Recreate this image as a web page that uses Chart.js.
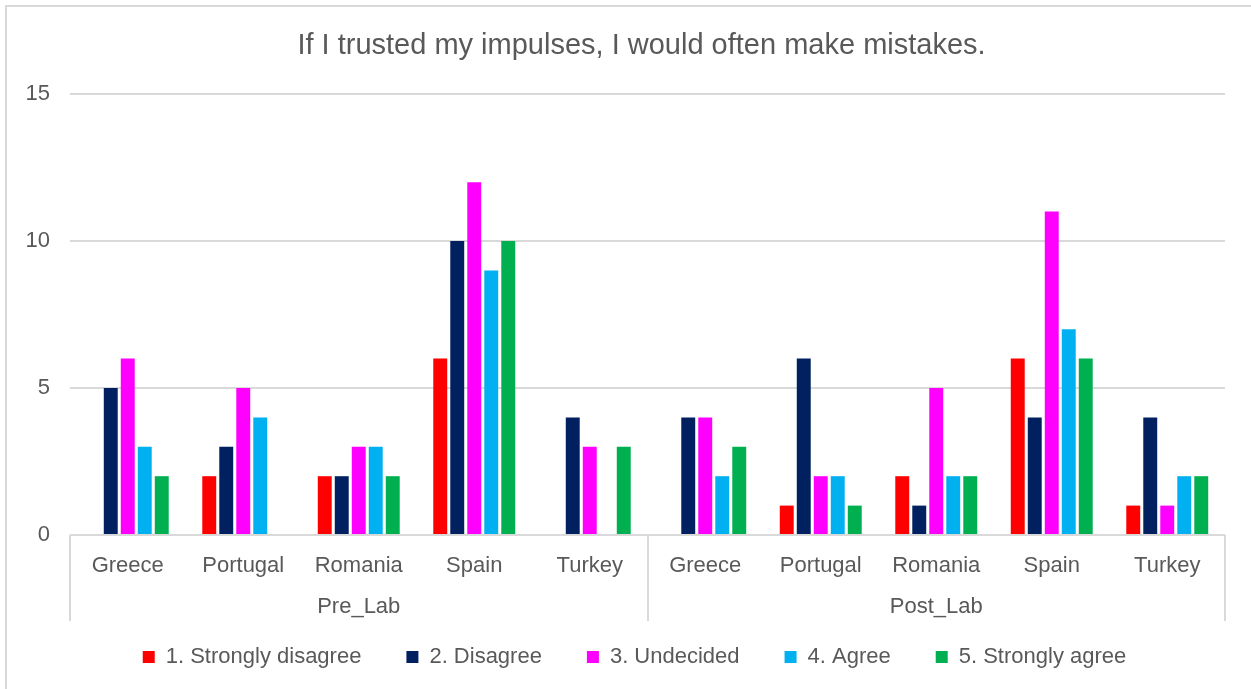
<!DOCTYPE html>
<html>
<head>
<meta charset="utf-8">
<title>If I trusted my impulses, I would often make mistakes.</title>
<script src="https://cdn.jsdelivr.net/npm/chart.js@4.4.1/dist/chart.umd.min.js"></script>
<style>
  html, body { margin: 0; padding: 0; background: #ffffff; }
  #wrap { width: 1251px; height: 689px; }
</style>
</head>
<body>
<div id="wrap"><canvas id="chart" width="1251" height="689"></canvas></div>
<script>
// Survey answers per country, before and after the lab sessions
const chartTitle = 'If I trusted my impulses, I would often make mistakes.';
const groups = ['Pre_Lab', 'Post_Lab'];
const countries = ['Greece', 'Portugal', 'Romania', 'Spain', 'Turkey'];
const categories = [...countries, ...countries];

const seriesNames = ['1. Strongly disagree', '2. Disagree', '3. Undecided', '4. Agree', '5. Strongly agree'];
const stronglyDisagree = [0, 2, 2, 6, 0, 0, 1, 2, 6, 1];
const disagree = [5, 3, 2, 10, 4, 4, 6, 1, 4, 4];
const undecided = [6, 5, 3, 12, 3, 4, 2, 5, 11, 1];
const agree = [3, 4, 3, 9, 0, 2, 2, 2, 7, 2];
const stronglyAgree = [2, 0, 2, 10, 3, 3, 1, 2, 6, 2];
const yTicks = [0, 5, 10, 15];

const seriesColors = ['#FF0000', '#002060', '#FF00FF', '#00B0F0', '#00B050'];
const textColor = '#595959';
const lineColor = '#D9D9D9';
const fontFamily = "'Liberation Sans', Arial, sans-serif";

const seriesValues = [stronglyDisagree, disagree, undecided, agree, stronglyAgree];
const datasets = seriesNames.map((name, i) => ({
  label: name,
  data: seriesValues[i],
  backgroundColor: seriesColors[i],
  borderWidth: 0,
  categoryPercentage: 0.736,
  barPercentage: 0.82
}));

// White page with the outer frame of the chart
const frame = {
  id: 'frame',
  beforeDraw(chart) {
    const ctx = chart.ctx;
    ctx.save();
    ctx.fillStyle = '#ffffff';
    ctx.fillRect(0, 0, chart.width, chart.height);
    ctx.strokeStyle = lineColor;
    ctx.lineWidth = 2;
    ctx.strokeRect(6, 6, chart.width + 20, chart.height + 20);
    ctx.restore();
  }
};

// Title and legend are centred on the frame rather than on the canvas
const centreBlocks = {
  id: 'centreBlocks',
  afterLayout(chart) {
    if (chart.titleBlock) chart.titleBlock.left += 58;
    if (chart.legend) chart.legend.left += 44;
  }
};

// Second row of the category axis: group names and their dividers
const groupAxis = {
  id: 'groupAxis',
  afterDraw(chart) {
    const x = chart.scales.x;
    const ctx = chart.ctx;
    const top = chart.chartArea.bottom;
    const per = categories.length / groups.length;
    ctx.save();
    ctx.strokeStyle = lineColor;
    ctx.lineWidth = 2;
    ctx.beginPath();
    for (let g = 0; g <= groups.length; g++) {
      const px = Math.round(x.getPixelForValue(g * per - 0.5));
      ctx.moveTo(px, top);
      ctx.lineTo(px, top + 86);
    }
    ctx.stroke();
    ctx.fillStyle = textColor;
    ctx.font = '22px ' + fontFamily;
    ctx.textAlign = 'center';
    ctx.textBaseline = 'middle';
    groups.forEach((name, g) => {
      const a = x.getPixelForValue(g * per - 0.5);
      const b = x.getPixelForValue((g + 1) * per - 0.5);
      ctx.fillText(name, (a + b) / 2, top + 72);
    });
    ctx.restore();
  }
};

new Chart(document.getElementById('chart'), {
  type: 'bar',
  data: { labels: categories, datasets },
  plugins: [frame, centreBlocks, groupAxis],
  options: {
    responsive: false,
    animation: false,
    layout: { padding: { left: 0, right: 26, top: 0, bottom: 11 } },
    plugins: {
      title: {
        display: true,
        text: chartTitle,
        color: textColor,
        font: { family: fontFamily, size: 29, weight: 'normal' },
        padding: { top: 29, bottom: 30.2 }
      },
      legend: {
        position: 'bottom',
        labels: {
          color: textColor,
          font: { family: fontFamily, size: 22 },
          boxWidth: 12,
          boxHeight: 12,
          padding: 45
        }
      },
      tooltip: { enabled: false }
    },
    scales: {
      x: {
        grid: { display: false, drawTicks: false },
        border: { display: false },
        ticks: {
          color: textColor,
          font: { family: fontFamily, size: 22 },
          padding: 18,
          maxRotation: 0,
          autoSkip: false
        },
        afterFit(scale) { scale.height = 66; }
      },
      y: {
        min: 0,
        max: 15,
        afterBuildTicks(scale) { scale.ticks = yTicks.map(v => ({ value: v })); },
        grid: { color: lineColor, lineWidth: 2, drawTicks: false },
        border: { display: false },
        ticks: {
          color: textColor,
          font: { family: fontFamily, size: 22 },
          padding: 20
        },
        afterFit(scale) { scale.width = 70; }
      }
    }
  }
});
</script>
</body>
</html>
